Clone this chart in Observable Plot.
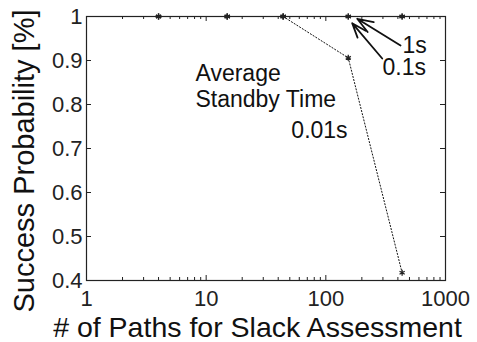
<!DOCTYPE html>
<html><head><meta charset="utf-8">
<script src="https://cdn.jsdelivr.net/npm/d3@7"></script>
<script src="https://cdn.jsdelivr.net/npm/@observablehq/plot@0.6"></script>
<style>
body{margin:0;background:#fff;}
#chart svg{font-family:"Liberation Sans",Arial,sans-serif;}
</style></head><body><div id="chart"></div>
<script>
// data
const paths = [4, 15, 44, 154, 434];
const succ1s = [1, 1, 1, 1, 1];
const succ01s = [1, 1, 1, 1, 1];
const succ001s = [1, 1, 1, 0.906, 0.4175];
const seriesNames = ["1s", "0.1s", "0.01s"];
const xTicks = [1, 10, 100, 1000];
const yTicks = [0.4, 0.5, 0.6, 0.7, 0.8, 0.9, 1];
const xMinor = [2,3,4,5,6,7,8,9,20,30,40,50,60,70,80,90,200,300,400,500,600,700,800,900];
const xLabel = "# of Paths for Slack Assessment";
const yLabel = "Success Probability [%]";
// annotations (data coordinates)
const noteText = ["Average", "Standby Time", "0.01s", "1s", "0.1s"];
const noteX = [8.14, 8.14, 51.5, 437, 297.5];
const noteY = [0.8545, 0.7932, 0.725, 0.918, 0.866];
const arrowFrom = [[421, 0.934], [296, 0.9045]];
const arrowTo = [[183, 0.9948], [166, 0.9848]];

const rows = [];
[succ1s, succ01s, succ001s].forEach((vals, i) =>
  vals.forEach((v, j) => rows.push({series: seriesNames[i], x: paths[j], y: v})));
const solidRows = rows.filter(d => d.series !== "0.01s");
const dottedRows = rows.filter(d => d.series === "0.01s");
const notes = noteText.map((t, i) => ({t, x: noteX[i], y: noteY[i]}));
const arrows = arrowFrom.map((f, i) => ({x1: f[0], y1: f[1], x2: arrowTo[i][0], y2: arrowTo[i][1]}));

const W = 477, H = 342, mL = 86, mR = 32, mT = 16, mB = 62;
const fw = W - mL - mR, fh = H - mT - mB;
const ink = "#222";

const chart = Plot.plot({
  width: W, height: H,
  marginLeft: mL, marginRight: mR, marginTop: mT, marginBottom: mB,
  style: {fontFamily: '"Liberation Sans", Arial, sans-serif', color: ink, background: "#fff"},
  x: {type: "log", domain: [1, 1000]},
  y: {domain: [0.4, 1]},
  marks: [
    // inward ticks
    Plot.ruleX(xMinor, {x: d => d, insetTop: fh - 3, stroke: ink}),
    Plot.ruleX(xTicks, {x: d => d, insetTop: fh - 5, stroke: ink}),
    Plot.ruleX(xMinor, {x: d => d, insetBottom: fh - 3, stroke: ink}),
    Plot.ruleX(xTicks, {x: d => d, insetBottom: fh - 5, stroke: ink}),
    Plot.ruleY(yTicks, {y: d => d, insetRight: fw - 5, stroke: ink}),
    Plot.ruleY(yTicks, {y: d => d, insetLeft: fw - 5, stroke: ink}),
    Plot.axisX(xTicks, {tickSize: 0, tickPadding: 10, fontSize: 22, tickFormat: d => String(d), label: null}),
    Plot.axisY(yTicks, {tickSize: 0, tickPadding: 4, fontSize: 22, tickFormat: d => String(+d.toFixed(1)), label: null}),
    Plot.text([xLabel], {frameAnchor: "bottom", textAnchor: "middle", dx: -8.5, dy: 56, lineAnchor: "bottom", fontSize: 28.5, fill: "#111"}),
    Plot.text([yLabel], {frameAnchor: "left", textAnchor: "middle", rotate: -90, dx: -62, dy: 12.5, fontSize: 29, fill: "#111"}),
    Plot.line(solidRows, {x: "x", y: "y", z: "series", stroke: "#111", strokeWidth: 1}),
    Plot.line(dottedRows, {x: "x", y: "y", stroke: "#111", strokeWidth: 1, strokeDasharray: "1.2,2"}),
    Plot.dot(rows, {x: "x", y: "y", symbol: "asterisk", r: 2.8, stroke: "#222", strokeWidth: 1.3}),
    Plot.frame({stroke: ink, strokeWidth: 1.2}),
    Plot.arrow(arrows, {x1: "x1", y1: "y1", x2: "x2", y2: "y2", stroke: "#111", strokeWidth: 1.8, headLength: 14, headAngle: 40}),
    Plot.text(notes, {x: "x", y: "y", text: "t", textAnchor: "start", lineAnchor: "bottom", fontSize: 23, fill: "#111"})
  ]
});
document.getElementById("chart").appendChild(chart);
</script>
</body></html>
